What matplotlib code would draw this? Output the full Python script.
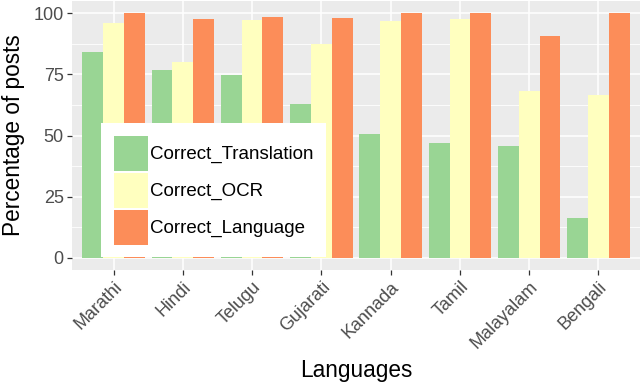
import matplotlib
matplotlib.use("Agg")
import matplotlib.pyplot as plt
import numpy as np
from matplotlib.patches import Patch

plt.rcParams['font.family'] = ['Liberation Sans', 'DejaVu Sans']

languages = ["Marathi", "Hindi", "Telugu", "Gujarati", "Kannada", "Tamil", "Malayalam", "Bengali"]
correct_translation = [84.1, 76.6, 74.6, 63.0, 50.7, 46.8, 45.7, 16.4]
correct_ocr = [96.0, 80.0, 97.3, 87.3, 96.7, 97.7, 68.4, 66.5]
correct_language = [100.0, 97.7, 98.6, 97.9, 100.0, 100.0, 90.6, 100.0]
series_names = ["Correct_Translation", "Correct_OCR", "Correct_Language"]
colors = ["#99D594", "#FFFFBF", "#FC8D59"]
y_ticks = [0, 25, 50, 75, 100]

fig = plt.figure(figsize=(6.4, 3.87), dpi=100)
W, H = 640, 387
left, right, top, bottom = 72, 640, 1, 270
ax = fig.add_axes([left / W, 1 - bottom / H, (right - left) / W, (bottom - top) / H])
ax.set_facecolor("#EBEBEB")
for s in ax.spines.values():
    s.set_visible(False)

x = np.arange(len(languages))
width = 0.3
series = [correct_translation, correct_ocr, correct_language]
for i, (vals, c) in enumerate(zip(series, colors)):
    ax.bar(x + (i - 1) * width, vals, width, color=c, edgecolor="none", zorder=3)

ax.set_xlim(-0.6, len(languages) - 0.4)
ax.set_ylim(-5, 105)
ax.set_yticks(y_ticks)
ax.set_yticks([12.5, 37.5, 62.5, 87.5], minor=True)
ax.set_xticks(x)
ax.set_xticklabels(languages, rotation=45, ha="right", va="top", rotation_mode="anchor")
ax.set_yticklabels([str(v) for v in y_ticks])

ax.grid(which="major", color="white", linewidth=1.1, zorder=1)
ax.grid(which="minor", axis="y", color="white", linewidth=0.6, zorder=1)
ax.set_axisbelow(True)
ax.tick_params(axis="both", which="major", length=3.5, width=0.9, color="#333333",
               labelcolor="#4D4D4D", labelsize=13, pad=2.5)
ax.tick_params(axis="y", which="minor", length=0)

ax.set_ylabel("Percentage of posts", fontsize=16.3, color="black", labelpad=6)
ax.set_xlabel("Languages", fontsize=16.3, color="black", labelpad=5)

handles = [Patch(facecolor=c, edgecolor="none") for c in colors]
leg = fig.legend(handles, series_names, loc="upper left",
                 bbox_to_anchor=(101 / W, 1 - 123 / H), borderaxespad=0,
                 fontsize=13.5, frameon=True, fancybox=False, framealpha=1,
                 edgecolor="white", handlelength=1.82, handleheight=2.5,
                 handletextpad=0.1, labelspacing=0.1, borderpad=0.68)
leg.get_frame().set_linewidth(0)

fig.savefig("out.png", dpi=100)
